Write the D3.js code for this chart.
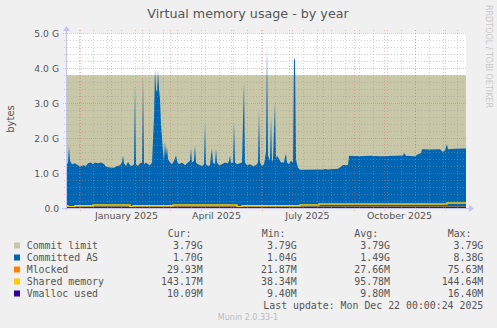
<!DOCTYPE html>
<html>
<head>
<meta charset="utf-8">
<script src="https://cdn.jsdelivr.net/npm/d3@7"></script>
<style>
  html, body { margin: 0; padding: 0; background: #f0f0f0; }
  svg { display: block; }
</style>
</head>
<body>
<svg id="chart"></svg>
<script>
// values in G (committed) and M (small lines)
const commitLimit = [["2024-11-17", 3.79], ["2025-12-22", 3.79]];

const committedAS = [
  ["2024-11-17",1.18],["2024-11-19",1.30],["2024-11-20",1.78],["2024-11-21",1.35],["2024-11-23",1.25],
  ["2024-11-26",1.28],["2024-11-29",1.22],["2024-12-01",1.18],["2024-12-04",1.22],["2024-12-07",1.20],
  ["2024-12-09",1.28],["2024-12-12",1.30],["2024-12-14",1.25],["2024-12-16",1.30],["2024-12-19",1.28],
  ["2024-12-22",1.30],["2024-12-25",1.26],["2024-12-27",1.18],["2024-12-31",1.16],["2025-01-04",1.15],
  ["2025-01-07",1.20],["2025-01-10",1.22],["2025-01-12",1.30],["2025-01-13",1.50],["2025-01-14",1.28],
  ["2025-01-16",1.20],["2025-01-18",1.32],["2025-01-20",1.22],["2025-01-22",1.20],["2025-01-24",1.25],
  ["2025-01-25",3.50],["2025-01-26",1.25],["2025-01-28",1.20],["2025-01-30",1.28],["2025-02-01",1.30],
  ["2025-02-02",3.75],["2025-02-03",1.25],["2025-02-05",1.30],["2025-02-07",1.25],["2025-02-09",1.22],
  ["2025-02-11",1.30],["2025-02-13",2.60],["2025-02-14",4.00],["2025-02-15",3.40],["2025-02-16",3.30],
  ["2025-02-17",3.95],["2025-02-18",3.40],["2025-02-19",3.10],["2025-02-20",2.40],["2025-02-21",2.00],
  ["2025-02-22",1.60],["2025-02-23",1.35],["2025-02-24",1.90],["2025-02-25",1.50],["2025-02-26",1.75],
  ["2025-02-27",1.40],["2025-03-01",1.30],["2025-03-03",1.25],["2025-03-05",1.35],["2025-03-07",1.50],
  ["2025-03-08",1.35],["2025-03-10",1.25],["2025-03-13",1.30],["2025-03-16",1.22],["2025-03-19",1.30],
  ["2025-03-21",1.35],["2025-03-22",1.70],["2025-03-23",1.30],["2025-03-25",1.35],["2025-03-26",1.80],
  ["2025-03-27",1.30],["2025-03-29",1.25],["2025-03-31",1.22],["2025-04-02",1.20],["2025-04-04",1.25],
  ["2025-04-05",2.47],["2025-04-06",1.25],["2025-04-08",1.20],["2025-04-10",1.22],["2025-04-11",1.50],
  ["2025-04-12",1.70],["2025-04-13",1.30],["2025-04-15",1.25],["2025-04-16",1.70],["2025-04-17",1.30],
  ["2025-04-19",1.22],["2025-04-22",1.25],["2025-04-25",1.30],["2025-04-28",1.28],["2025-04-29",1.35],
  ["2025-04-30",1.50],["2025-05-01",1.28],["2025-05-03",1.30],["2025-05-04",2.47],["2025-05-05",1.30],
  ["2025-05-07",1.25],["2025-05-10",1.28],["2025-05-12",1.30],["2025-05-14",3.60],["2025-05-15",1.30],
  ["2025-05-17",1.22],["2025-05-20",1.25],["2025-05-23",1.20],["2025-05-26",1.22],["2025-05-28",1.30],
  ["2025-05-29",2.80],["2025-05-30",1.30],["2025-06-01",1.20],["2025-06-03",1.25],["2025-06-05",1.60],
  ["2025-06-06",4.70],["2025-06-07",1.50],["2025-06-09",1.35],["2025-06-10",2.60],["2025-06-11",1.30],
  ["2025-06-12",1.40],["2025-06-13",2.20],["2025-06-14",3.00],["2025-06-15",1.40],["2025-06-16",1.50],
  ["2025-06-18",1.40],["2025-06-20",1.30],["2025-06-23",1.30],["2025-06-24",1.45],["2025-06-25",1.55],
  ["2025-06-26",1.30],["2025-06-28",1.25],["2025-06-30",1.35],["2025-07-02",1.30],["2025-07-03",4.30],
  ["2025-07-04",4.20],["2025-07-05",1.40],["2025-07-06",1.25],["2025-07-07",1.15],["2025-07-09",1.09],
  ["2025-07-26",1.10],["2025-08-02",1.10],["2025-08-03",1.12],["2025-08-05",1.10],["2025-08-16",1.12],
  ["2025-08-19",1.18],["2025-08-21",1.23],["2025-08-26",1.23],["2025-08-27",1.49],["2025-09-07",1.48],
  ["2025-09-17",1.49],["2025-09-27",1.48],["2025-10-20",1.50],["2025-10-21",1.57],["2025-10-23",1.49],
  ["2025-11-01",1.48],["2025-11-03",1.52],["2025-11-07",1.57],["2025-11-08",1.68],["2025-11-16",1.67],
  ["2025-11-26",1.68],["2025-11-29",1.60],["2025-12-01",1.65],["2025-12-03",1.82],["2025-12-04",1.68],
  ["2025-12-11",1.69],["2025-12-22",1.70]
];

const mlocked = [["2024-11-17",28],["2025-02-14",30],["2025-06-06",27],["2025-09-01",28],["2025-12-22",30]];

const sharedMemory = [
  ["2024-11-17",66],["2024-11-19",38],["2024-11-26",66],["2024-12-14",86],["2025-01-20",40],
  ["2025-01-23",66],["2025-03-04",86],["2025-05-07",40],["2025-05-12",66],["2025-07-09",86],
  ["2025-07-28",114],["2025-12-03",143],["2025-12-22",143]
];

const vmalloc = [["2024-11-17",9.6],["2025-06-01",9.9],["2025-12-22",10.1]];

const yTicks = [0, 1, 2, 3, 4, 5];
const xLabelDates = ["2025-01-16", "2025-04-16", "2025-07-16", "2025-10-16"];

const legendNames = ["Commit limit", "Committed AS", "Mlocked", "Shared memory", "Vmalloc used"];
const legendColors = ["#c8c8a9", "#0066b3", "#ff8000", "#ffcc00", "#330099"];
const curVals = ["3.79G", "1.70G", "29.93M", "143.17M", "10.09M"];
const minVals = ["3.79G", "1.04G", "21.87M", "38.34M", "9.40M"];
const avgVals = ["3.79G", "1.49G", "27.66M", "95.78M", "9.80M"];
const maxVals = ["3.79G", "8.38G", "75.63M", "144.64M", "16.40M"];

const width = 497;
const height = 328;
const TEXT = "#555";
const SANS = "DejaVu Sans, sans-serif";
const MONO = "DejaVu Sans Mono, monospace";

const parse = d3.utcParse("%Y-%m-%d");
const start = parse("2024-11-17");
const end = parse("2025-12-22");

const x = d3.scaleUtc().domain([start, end]).range([66, 466]);
const y = d3.scaleLinear().domain([0, 5]).range([208, 33]);

const svg = d3.select("#chart").attr("width", width).attr("height", height);

svg.append("rect").attr("width", width).attr("height", height).attr("fill", "#f0f0f0");
svg.append("rect")
   .attr("x", x.range()[0]).attr("y", y.range()[1])
   .attr("width", x.range()[1] - x.range()[0])
   .attr("height", y.range()[0] - y.range()[1])
   .attr("fill", "#fff");

const toPts = (arr, k = 1) => arr.map(([d, v]) => ({date: parse(d), value: v / k}));

const area = d3.area().x(d => x(d.date)).y0(y(0)).y1(d => y(d.value));

svg.append("path").datum(toPts(commitLimit)).attr("d", area).attr("fill", legendColors[0]);
svg.append("path").datum(toPts(committedAS)).attr("d", area).attr("fill", legendColors[1]);

// small series drawn as lines
const stepLine = d3.line().x(d => x(d.date)).y(d => y(d.value)).curve(d3.curveStepAfter);
[[mlocked, 2], [sharedMemory, 3], [vmalloc, 4]].forEach(([arr, i]) => {
   svg.append("path")
      .datum(toPts(arr, 1000))
      .attr("d", stepLine)
      .attr("fill", "none")
      .attr("stroke", legendColors[i])
      .attr("stroke-width", i === 3 ? 1.4 : 1);
});

// grid on top of data
const grid = svg.append("g").attr("shape-rendering", "crispEdges");
const minorY = y.ticks(25).filter(v => Math.abs(v - Math.round(v)) > 1e-6);
const minorX = d3.utcDay.range(parse("2024-11-30"), end, 14);
const majorX = d3.utcMonth.range(start, end);
const MINOR = "rgba(150,150,150,0.45)";
const MAJOR = "rgba(235,90,90,0.4)";

grid.selectAll(".hmin").data(minorY).enter().append("line")
   .attr("x1", 64).attr("x2", 466)
   .attr("y1", d => Math.round(y(d)) + 0.5).attr("y2", d => Math.round(y(d)) + 0.5)
   .attr("stroke", MINOR).attr("stroke-dasharray", "1,2");
grid.selectAll(".vmin").data(minorX).enter().append("line")
   .attr("x1", d => Math.round(x(d)) + 0.5).attr("x2", d => Math.round(x(d)) + 0.5)
   .attr("y1", 30).attr("y2", 210)
   .attr("stroke", MINOR).attr("stroke-dasharray", "1,2");
grid.selectAll(".hmaj").data(yTicks).enter().append("line")
   .attr("x1", 63).attr("x2", 466)
   .attr("y1", d => Math.round(y(d)) + 0.5).attr("y2", d => Math.round(y(d)) + 0.5)
   .attr("stroke", MAJOR).attr("stroke-dasharray", "1,1");
grid.selectAll(".vmaj").data(majorX).enter().append("line")
   .attr("x1", d => Math.round(x(d)) + 0.5).attr("x2", d => Math.round(x(d)) + 0.5)
   .attr("y1", 30).attr("y2", 211)
   .attr("stroke", MAJOR).attr("stroke-dasharray", "1,2");

// axes lines with arrows
const AXIS = "#c4c4f2";
svg.append("line").attr("x1", 66.5).attr("x2", 66.5).attr("y1", 210).attr("y2", 29)
   .attr("stroke", AXIS);
svg.append("path").attr("d", "M63,31L70,31L66.5,26Z").attr("fill", AXIS);
svg.append("line").attr("x1", 62).attr("x2", 470).attr("y1", 208.5).attr("y2", 208.5)
   .attr("stroke", AXIS);
svg.append("path").attr("d", "M469,205L469,212L474,208.5Z").attr("fill", AXIS);

// tick labels
const yAxis = svg.append("g")
   .attr("transform", "translate(66,0)")
   .call(d3.axisLeft(y).tickValues(yTicks).tickSize(0).tickPadding(7)
      .tickFormat(d => d === 0 ? "0.0" : `${d.toFixed(1)} G`));
yAxis.select(".domain").remove();
yAxis.selectAll("text").attr("fill", TEXT).attr("font-family", SANS).attr("font-size", 9.2).attr("dy", "0.38em");

const xAxis = svg.append("g")
   .attr("transform", "translate(0,208)")
   .call(d3.axisBottom(x).tickValues(xLabelDates.map(parse)).tickSize(0).tickPadding(4.5)
      .tickFormat(d3.utcFormat("%B %Y")));
xAxis.select(".domain").remove();
xAxis.selectAll("text").attr("fill", TEXT).attr("font-family", SANS).attr("font-size", 9.5);

// titles
svg.append("text").attr("x", 248).attr("y", 18).attr("text-anchor", "middle")
   .attr("font-family", SANS).attr("font-size", 12.7).attr("fill", TEXT)
   .text("Virtual memory usage - by year");
svg.append("text").attr("transform", "translate(13.5,119) rotate(-90)").attr("text-anchor", "middle")
   .attr("font-family", SANS).attr("font-size", 10).attr("fill", TEXT).text("bytes");
svg.append("text").attr("transform", "translate(486,56.5) rotate(90)").attr("text-anchor", "middle")
   .attr("font-family", SANS).attr("font-size", 8).attr("fill", "#c8c8c8").text("RRDTOOL / TOBI OETIKER");

// legend
const legend = svg.append("g").attr("font-family", MONO).attr("font-size", 9.9).attr("fill", TEXT);
const headers = [["Cur:", 167.7], ["Min:", 261.7], ["Avg:", 354.3], ["Max:", 447.7]];
legend.selectAll(".hdr").data(headers).enter().append("text")
   .attr("x", d => d[1]).attr("y", 237).text(d => d[0]);

const rows = legend.selectAll(".row").data(legendNames).enter().append("g")
   .attr("transform", (d, i) => `translate(0,${249 + i * 12})`);
rows.append("rect").attr("x", 14).attr("y", -6.5).attr("width", 6).attr("height", 6)
   .attr("fill", (d, i) => legendColors[i]);
rows.append("text").attr("x", 26.7).text(d => d);
[[curVals, 202.7], [minVals, 296.7], [avgVals, 390], [maxVals, 483.3]].forEach(([vals, cx]) => {
   rows.append("text").attr("x", cx).attr("text-anchor", "end").text((d, i) => vals[i]);
});

legend.append("text").attr("x", 483.3).attr("y", 309).attr("text-anchor", "end")
   .text("Last update: Mon Dec 22 00:00:24 2025");
svg.append("text").attr("x", 248).attr("y", 320).attr("text-anchor", "middle")
   .attr("font-family", SANS).attr("font-size", 8).attr("fill", "#bbb").text("Munin 2.0.33-1");
</script>
</body>
</html>
